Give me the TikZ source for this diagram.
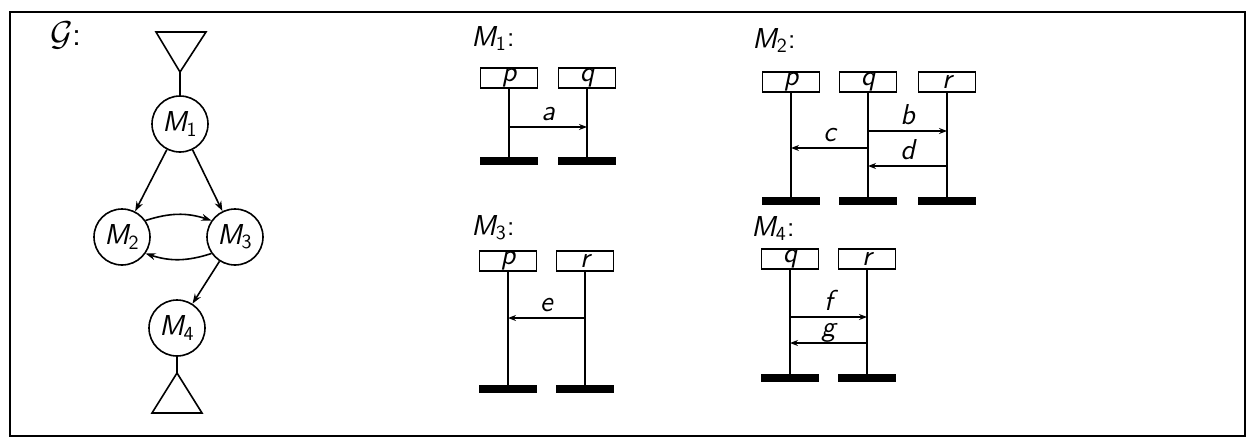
\documentclass[tikz,border=0pt]{standalone}
\usetikzlibrary{arrows.meta}
\begin{document}
\begin{tikzpicture}[x=0.5pt,y=-0.5pt,
  every node/.style={font=\sffamily\itshape},
  state/.style={circle,draw,line width=0.8pt,minimum size=28pt,inner sep=0pt,font=\sffamily\Large},
  edge/.style={line width=0.8pt,-{Stealth[length=5pt,width=3.5pt]}},
  inst/.style={draw,line width=0.7pt,minimum width=28.5pt,minimum height=10pt,inner sep=0pt,font=\sffamily\itshape\Large},
  stopbar/.style={fill=black,minimum width=29pt,minimum height=4pt,inner sep=0pt},
  life/.style={line width=0.8pt},
  msg/.style={line width=0.7pt,-{Stealth[length=4pt,width=3pt]}},
  lbl/.style={anchor=base,yshift=3.5pt,font=\sffamily\itshape\Large},
  title/.style={anchor=base west,inner sep=0pt,font=\sffamily\Large}
]
\useasboundingbox (0,0) rectangle (1251,439);
\draw[line width=1pt] (10,12) rectangle (1245,436);

% ---- the graph G ----
\node[anchor=base west,font=\LARGE] (G) at (43,45) {$\mathcal{G}$\textsf{:}};
\node[state] (n1) at (180,124) {{\itshape M}\textsubscript{1}};
\node[state] (n2) at (122,237) {{\itshape M}\textsubscript{2}};
\node[state] (n3) at (235,237) {{\itshape M}\textsubscript{3}};
\node[state] (n4) at (177,328) {{\itshape M}\textsubscript{4}};
\coordinate (init) at (180,72);
\coordinate (fin) at (177,373);
\draw[line width=0.8pt] (init) -- ++(-24,-40) -- ++(50,0) -- cycle;
\draw[line width=0.8pt] (fin) -- ++(-25,40) -- ++(50,0) -- cycle;
\draw[line width=0.8pt] (init) -- (n1);
\draw[line width=0.8pt] (n4) -- (fin);
\draw[edge] (n1) -- (n2);
\draw[edge] (n1) -- (n3);
\draw[edge] (n2.35) to[bend left=18] (n3.145);
\draw[edge] (n3.215) to[bend left=18] (n2.-35);
\draw[edge] (n3) -- (n4);

% ---- M1 ----
\node[title] (t1) at (471,46) {{\itshape M}\textsubscript{1}:};
\node[inst] (m1p) at (509,78) {p};
\node[inst] (m1q) at (587,78) {q};
\node[stopbar] (m1pe) at (509,161) {};
\node[stopbar] (m1qe) at (587,161) {};
\draw[life] (m1p) -- (m1pe);
\draw[life] (m1q) -- (m1qe);
\draw[msg] (m1p |- 0,127) -- node[lbl] {a} (m1q |- 0,127);

% ---- M2 ----
\node[title] (t2) at (752,48) {{\itshape M}\textsubscript{2}:};
\node[inst] (m2p) at (791,82) {p};
\node[inst] (m2q) at (868,82) {q};
\node[inst] (m2r) at (947,82) {r};
\node[stopbar] (m2pe) at (791,201) {};
\node[stopbar] (m2qe) at (868,201) {};
\node[stopbar] (m2re) at (947,201) {};
\draw[life] (m2p) -- (m2pe);
\draw[life] (m2q) -- (m2qe);
\draw[life] (m2r) -- (m2re);
\draw[msg] (m2q |- 0,131) -- node[lbl] {b} (m2r |- 0,131);
\draw[msg] (m2q |- 0,148) -- node[lbl] {c} (m2p |- 0,148);
\draw[msg] (m2r |- 0,166) -- node[lbl] {d} (m2q |- 0,166);

% ---- M3 ----
\node[title] (t3) at (471,235) {{\itshape M}\textsubscript{3}:};
\node[inst] (m3p) at (508,261) {p};
\node[inst] (m3r) at (585,261) {r};
\node[stopbar] (m3pe) at (508,389) {};
\node[stopbar] (m3re) at (585,389) {};
\draw[life] (m3p) -- (m3pe);
\draw[life] (m3r) -- (m3re);
\draw[msg] (m3r |- 0,318) -- node[lbl] {e} (m3p |- 0,318);

% ---- M4 ----
\node[title] (t4) at (751,236) {{\itshape M}\textsubscript{4}:};
\node[inst] (m4q) at (790,259) {q};
\node[inst] (m4r) at (867,259) {r};
\node[stopbar] (m4qe) at (790,378) {};
\node[stopbar] (m4re) at (867,378) {};
\draw[life] (m4q) -- (m4qe);
\draw[life] (m4r) -- (m4re);
\draw[msg] (m4q |- 0,317) -- node[lbl] {f} (m4r |- 0,317);
\draw[msg] (m4r |- 0,343) -- node[lbl] {g} (m4q |- 0,343);
\end{tikzpicture}
\end{document}
